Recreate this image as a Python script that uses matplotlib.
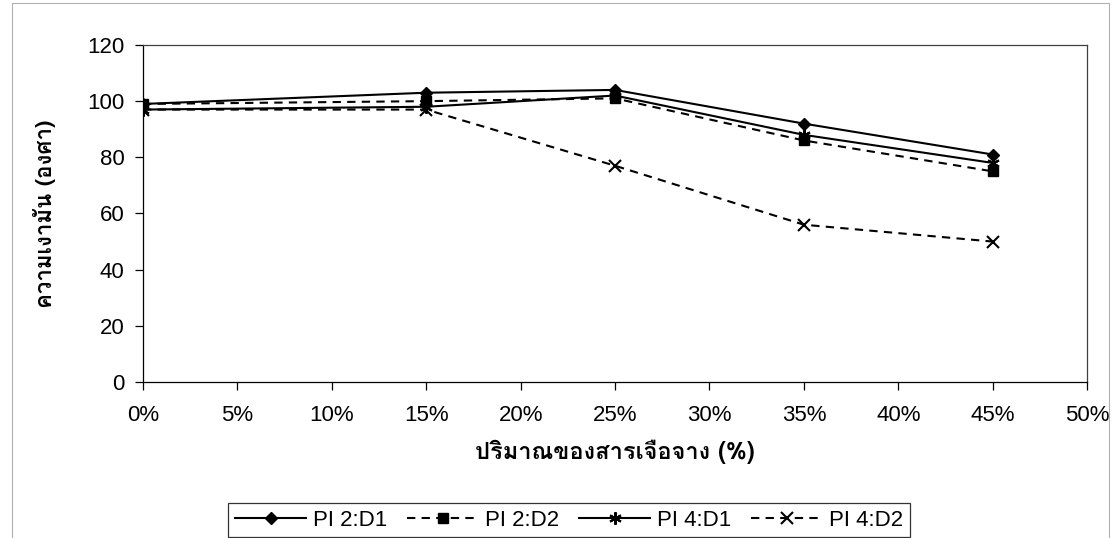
import matplotlib
matplotlib.use("Agg")
import matplotlib.pyplot as plt
from matplotlib import font_manager
from matplotlib.ft2font import FT2Font
from matplotlib.patches import Rectangle

# data
x_pct = [0, 15, 25, 35, 45]
pi2_d1 = [99, 103, 104, 92, 81]
pi2_d2 = [99, 100, 101, 86, 75]
pi4_d1 = [97, 98, 102, 88, 78]
pi4_d2 = [97, 97, 77, 56, 50]
series_names = ["PI 2:D1", "PI 2:D2", "PI 4:D1", "PI 4:D2"]
x_ticks = [0, 5, 10, 15, 20, 25, 30, 35, 40, 45, 50]
y_ticks = [0, 20, 40, 60, 80, 100, 120]
x_title = "ปริมาณของสารเจือจาง (%)"
y_title = "ความเงามัน (องศา)"


def findThaiFamily():
    # look for any installed font that has Thai glyphs
    found = []
    for f in font_manager.fontManager.ttflist:
        try:
            cmap = FT2Font(f.fname).get_charmap()
        except Exception:
            continue
        if ord("ก") in cmap:
            found.append(f.name)
    return found


thai = findThaiFamily()
fam = (thai[:1] if thai else []) + ["Liberation Sans", "DejaVu Sans"]
plt.rcParams["font.family"] = ["Liberation Sans", "DejaVu Sans"]

fig = plt.figure(figsize=(11.12, 5.38), dpi=100)
ax = fig.add_axes([0.1286, 0.290, 0.849, 0.6264])

# outer chart border
fig.patches.append(Rectangle((12 / 1112, -0.05), 1097 / 1112, 1.045, transform=fig.transFigure,
                             fill=False, edgecolor="#b0b0b0", linewidth=0.8))

lw = 1.5
dash = (0, (4, 3))
ax.plot(x_pct, pi2_d1, color="black", lw=lw, ls="-", marker="D", ms=6.5, label=series_names[0])
ax.plot(x_pct, pi2_d2, color="black", lw=lw, ls=dash, marker="s", ms=6.5, label=series_names[1])
ax.plot(x_pct, pi4_d1, color="black", lw=lw, ls="-", marker=(6, 2, 0), ms=9, mew=1.5, label=series_names[2])
ax.plot(x_pct, pi4_d2, color="black", lw=lw, ls=dash, marker="x", ms=8, mew=1.5, label=series_names[3])

ax.set_xlim(0, 50)
ax.set_ylim(0, 120)
ax.set_xticks(x_ticks)
ax.set_xticklabels([f"{t}%" for t in x_ticks])
ax.set_yticks(y_ticks)
ax.tick_params(labelsize=16, length=5.5, width=0.9, direction="out")
ax.tick_params(axis="x", pad=11)
ax.tick_params(axis="y", pad=8)
for s in ax.spines.values():
    s.set_linewidth(0.9)
    s.set_color("#404040")
ax.spines["left"].set_color("black")
ax.spines["bottom"].set_color("black")

ax.set_xlabel(x_title, fontsize=17, fontweight="bold", family=fam, labelpad=10)
ax.set_ylabel(y_title, fontsize=16, fontweight="bold", family=fam, labelpad=22)

leg = fig.legend(loc="upper center", bbox_to_anchor=(569 / 1112, 1 - 492 / 538), ncol=4,
                 fontsize=16, frameon=True, fancybox=False, edgecolor="black",
                 handlelength=3.2, columnspacing=0.9, handletextpad=0.3, borderpad=0.3)
leg.get_frame().set_linewidth(0.9)

fig.savefig("out.png", dpi=100)
